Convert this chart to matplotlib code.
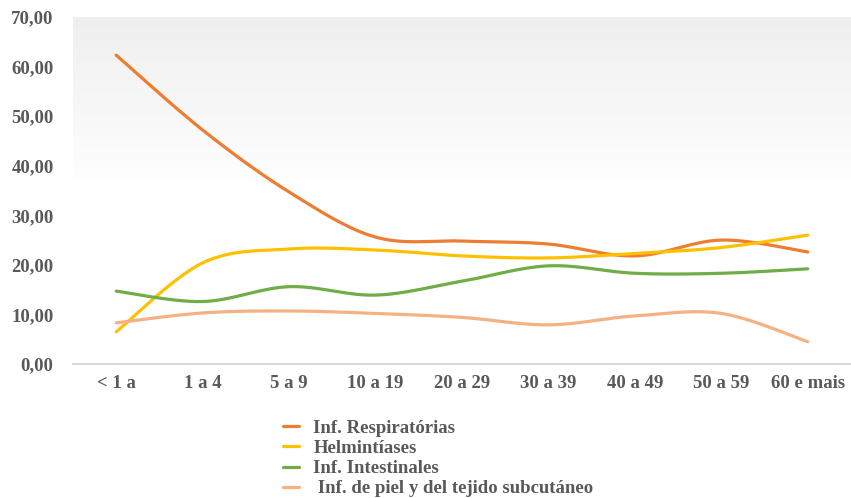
import numpy as np
import matplotlib
matplotlib.use("Agg")
import matplotlib.pyplot as plt
from matplotlib.ticker import FuncFormatter
from matplotlib.colors import LinearSegmentedColormap

categories = ["< 1 a", "1 a 4", "5 a 9", "10 a 19", "20 a 29", "30 a 39", "40 a 49", "50 a 59", "60 e mais"]
respiratorias = [62.3, 47.2, 34.7, 25.6, 24.8, 24.2, 21.8, 25.0, 22.6]
helmintiases = [6.5, 20.4, 23.2, 23.0, 21.8, 21.4, 22.3, 23.5, 26.0]
intestinales = [14.7, 12.6, 15.6, 13.9, 16.7, 19.8, 18.3, 18.3, 19.2]
piel = [8.3, 10.3, 10.7, 10.2, 9.4, 7.9, 9.7, 10.2, 4.5]
labels = ["Inf. Respiratórias", "Helmintíases", "Inf. Intestinales", " Inf. de piel y del tejido subcutáneo"]
colors = ["#ED7D31", "#FFC000", "#70AD47", "#F4B183"]

plt.rcParams['font.family'] = ['Liberation Serif', 'DejaVu Serif']
plt.rcParams['font.weight'] = 'bold'
TXT = "#595959"


def smooth(x, y, n=30):
    x = np.asarray(x, float); y = np.asarray(y, float)
    xs, ys = [], []
    for i in range(len(x) - 1):
        p0 = (x[i - 1] if i > 0 else x[i], y[i - 1] if i > 0 else y[i])
        p1 = (x[i], y[i]); p2 = (x[i + 1], y[i + 1])
        p3 = (x[i + 2], y[i + 2]) if i + 2 < len(x) else p2
        c1 = (p1[0] + (p2[0] - p0[0]) / 6, p1[1] + (p2[1] - p0[1]) / 6)
        c2 = (p2[0] - (p3[0] - p1[0]) / 6, p2[1] - (p3[1] - p1[1]) / 6)
        t = np.linspace(0, 1, n, endpoint=(i == len(x) - 2))
        for k in range(2):
            b = ((1 - t) ** 3 * p1[k] + 3 * (1 - t) ** 2 * t * c1[k]
                 + 3 * (1 - t) * t ** 2 * c2[k] + t ** 3 * p2[k])
            (xs if k == 0 else ys).append(b)
    return np.concatenate(xs), np.concatenate(ys)


fig = plt.figure(figsize=(8.51, 4.98), dpi=100)
ax = fig.add_axes([73 / 851, 1 - 364 / 498, 1 - 73 / 851, (364 - 17) / 498])
ax.set_xlim(-0.5, len(categories) - 0.5)
ax.set_ylim(0, 70)

# background gradient
grad = np.linspace(0, 1, 256).reshape(-1, 1)
cmap = LinearSegmentedColormap.from_list("g", ["#FFFFFF", "#FFFFFF", "#EFEFEF"])
ax.imshow(grad, aspect="auto", cmap=cmap, extent=(-0.5, len(categories) - 0.5, 70, 0),
          origin="upper", zorder=0)

x = np.arange(len(categories))
for data, lab, col in zip([respiratorias, helmintiases, intestinales, piel], labels, colors):
    sx, sy = smooth(x, data)
    ax.plot(sx, sy, color=col, lw=2.3, label=lab, solid_capstyle="round", zorder=3)

ax.set_xticks(x)
ax.set_xticklabels(categories)
ax.set_yticks(np.arange(0, 71, 10))
ax.yaxis.set_major_formatter(FuncFormatter(lambda v, p: f"{v:.2f}".replace(".", ",")))
ax.tick_params(axis="both", length=0, labelsize=13.5, labelcolor=TXT)
ax.tick_params(axis="y", pad=14)
ax.tick_params(axis="x", pad=8)
for s in ["top", "right", "left"]:
    ax.spines[s].set_visible(False)
ax.spines["bottom"].set_color("#D9D9D9")
ax.spines["bottom"].set_linewidth(1.5)

handles, labs = ax.get_legend_handles_labels()
leg = fig.legend(handles, labs, loc="upper left", bbox_to_anchor=(274 / 851, 1 - 410 / 498),
                 frameon=False, fontsize=13.5, labelspacing=0.17, handlelength=0.85,
                 handletextpad=0.75, borderpad=0)
for t in leg.get_texts():
    t.set_color(TXT)

fig.savefig("out.png", dpi=100)
